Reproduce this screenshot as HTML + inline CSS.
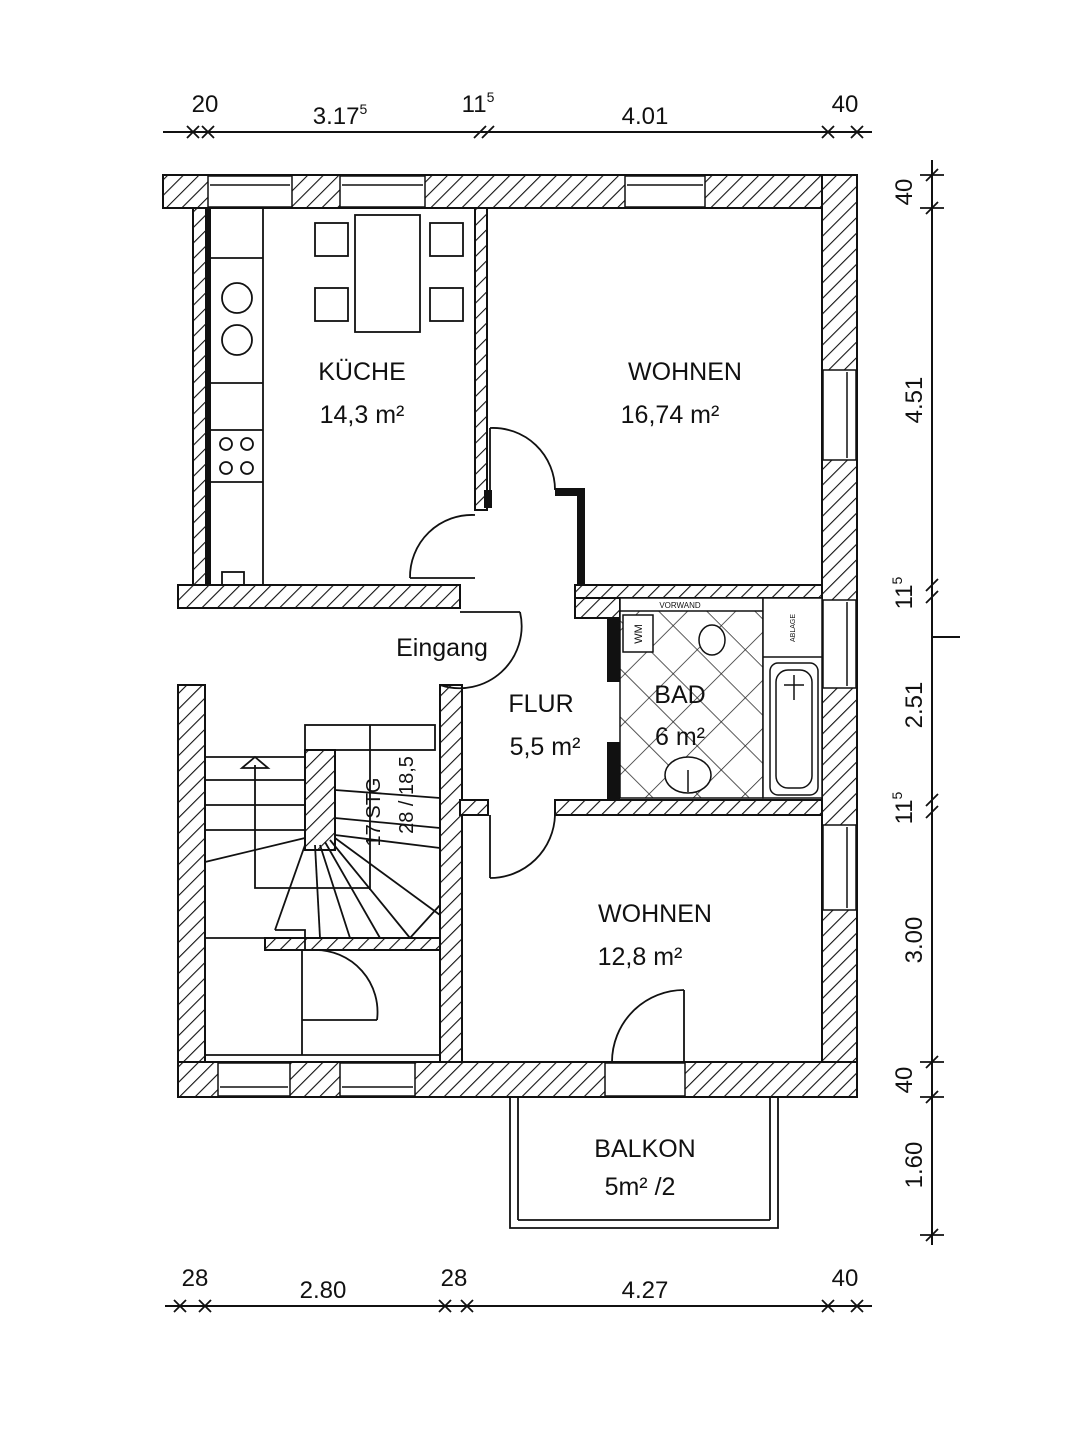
<!DOCTYPE html>
<html><head><meta charset="utf-8"><style>
html,body{margin:0;padding:0;background:#fff;}
svg{display:block;}
text{font-family:"Liberation Sans",Arial,sans-serif;fill:#111;}
</style></head><body>
<svg width="1079" height="1429" viewBox="0 0 1079 1429" xmlns="http://www.w3.org/2000/svg">
<defs>
<pattern id="h" width="11" height="11" patternUnits="userSpaceOnUse" patternTransform="rotate(45)">
<rect width="11" height="11" fill="#fff"/><line x1="0" y1="0" x2="0" y2="11" stroke="#111" stroke-width="2.2"/>
</pattern>
<pattern id="t" width="34" height="34" patternUnits="userSpaceOnUse" patternTransform="rotate(45)">
<rect width="34" height="34" fill="#fff"/><line x1="0" y1="0" x2="0" y2="34" stroke="#222" stroke-width="1.5"/><line x1="0" y1="0" x2="34" y2="0" stroke="#222" stroke-width="1.5"/>
</pattern>
</defs>
<g stroke="#111" stroke-width="2" fill="url(#h)">
<rect x="163" y="175" width="694" height="33"/>
<rect x="822" y="175" width="35" height="922"/>
<rect x="178" y="1062" width="679" height="35"/>
<rect x="193" y="208" width="14" height="377"/>
<rect x="178" y="585" width="282" height="23"/>
<rect x="475" y="208" width="12" height="302"/>
<rect x="575" y="585" width="247" height="13"/>
<rect x="575" y="598" width="45" height="20"/>
<rect x="178" y="685" width="27" height="377"/>
<rect x="440" y="685" width="22" height="377"/>
<rect x="460" y="800" width="28" height="15"/>
<rect x="555" y="800" width="267" height="15"/>
<rect x="265" y="938" width="175" height="12"/>
<rect x="305" y="750" width="30" height="100"/>
</g>
<g fill="#fff" stroke="#111" stroke-width="1.5">
<rect x="208" y="176" width="84" height="31"/><line x1="210" y1="185" x2="290" y2="185"/>
<rect x="340" y="176" width="85" height="31"/><line x1="342" y1="185" x2="423" y2="185"/>
<rect x="625" y="176" width="80" height="31"/><line x1="627" y1="185" x2="703" y2="185"/>
<rect x="823" y="370" width="33" height="90"/><line x1="847" y1="372" x2="847" y2="458"/>
<rect x="823" y="600" width="33" height="88"/><line x1="847" y1="602" x2="847" y2="686"/>
<rect x="823" y="825" width="33" height="85"/><line x1="847" y1="827" x2="847" y2="908"/>
<rect x="218" y="1063" width="72" height="33"/><line x1="220" y1="1087" x2="288" y2="1087"/>
<rect x="340" y="1063" width="75" height="33"/><line x1="342" y1="1087" x2="413" y2="1087"/>
<rect x="605" y="1063" width="80" height="33"/>
</g>
<g fill="#111">
<rect x="205" y="208" width="6" height="377"/>
<rect x="484" y="490" width="8" height="18"/>
<rect x="555" y="488" width="30" height="8"/>
<rect x="577" y="488" width="8" height="97"/>
<rect x="607" y="618" width="13" height="64"/>
<rect x="607" y="742" width="13" height="58"/>
</g>
<g fill="none" stroke="#111" stroke-width="1.8">
<line x1="263" y1="208" x2="263" y2="585"/>
<line x1="211" y1="258" x2="263" y2="258"/>
<line x1="211" y1="383" x2="263" y2="383"/>
<line x1="211" y1="430" x2="263" y2="430"/>
<line x1="211" y1="482" x2="263" y2="482"/>
<circle cx="237" cy="298" r="15"/><circle cx="237" cy="340" r="15"/>
<circle cx="226" cy="444" r="6"/><circle cx="247" cy="444" r="6"/><circle cx="226" cy="468" r="6"/><circle cx="247" cy="468" r="6"/>
<rect x="355" y="215" width="65" height="117"/>
<rect x="315" y="223" width="33" height="33"/><rect x="315" y="288" width="33" height="33"/>
<rect x="430" y="223" width="33" height="33"/><rect x="430" y="288" width="33" height="33"/>
<rect x="222" y="572" width="22" height="13"/>
<path d="M490 428 A62 62 0 0 1 555 490"/><line x1="490" y1="428" x2="490" y2="490"/>
<path d="M410 578 A62 62 0 0 1 475 515"/><line x1="410" y1="578" x2="475" y2="578"/>
<path d="M440 685 A62 62 0 0 0 520 612"/>
<line x1="520" y1="612" x2="460" y2="612"/>
<path d="M490 878 A65 65 0 0 0 555 815"/><line x1="490" y1="815" x2="490" y2="878"/>
<path d="M315 950 A62 62 0 0 1 377 1020"/><line x1="302" y1="950" x2="302" y2="1055"/><line x1="302" y1="1020" x2="377" y2="1020"/>
<path d="M612 1062 A72 72 0 0 1 684 990"/><line x1="684" y1="990" x2="684" y2="1062"/>
<rect x="305" y="725" width="130" height="25"/>
<line x1="370" y1="725" x2="370" y2="890"/>
<line x1="205" y1="757" x2="305" y2="757"/>
<line x1="205" y1="780" x2="305" y2="780"/>
<line x1="205" y1="805" x2="305" y2="805"/>
<line x1="205" y1="830" x2="305" y2="830"/>
<line x1="335" y1="790" x2="440" y2="798"/>
<line x1="335" y1="818" x2="440" y2="828"/>
<line x1="335" y1="835" x2="440" y2="848"/>
<line x1="205" y1="862" x2="305" y2="838"/>
<polyline points="255,765 255,888 370,888"/>
<polygon points="242,768 268,768 255,757"/>
<line x1="305" y1="845" x2="275" y2="930"/><polyline points="275,930 305,930 305,950"/>
<line x1="315" y1="845" x2="320" y2="938"/>
<line x1="320" y1="845" x2="350" y2="938"/>
<line x1="325" y1="842" x2="380" y2="938"/>
<line x1="330" y1="840" x2="410" y2="938"/>
<line x1="335" y1="838" x2="440" y2="915"/>
<line x1="410" y1="938" x2="440" y2="905"/>
<line x1="205" y1="938" x2="265" y2="938"/>
<line x1="205" y1="1055" x2="440" y2="1055"/>
<polyline points="510,1097 510,1228 778,1228 778,1097"/>
<line x1="518" y1="1097" x2="518" y2="1220"/><line x1="518" y1="1220" x2="770" y2="1220"/><line x1="770" y1="1220" x2="770" y2="1097"/>
</g>
<rect x="620" y="598" width="143" height="200" fill="url(#t)" stroke="#111" stroke-width="1.5"/>
<g fill="#fff" stroke="#111" stroke-width="1.5">
<rect x="620" y="598" width="143" height="13"/>
<rect x="623" y="615" width="30" height="37"/>
<rect x="763" y="598" width="59" height="200"/>
<line x1="763" y1="657" x2="822" y2="657"/>
<rect x="770" y="663" width="48" height="132" rx="8"/>
<rect x="776" y="670" width="36" height="118" rx="12"/>
<ellipse cx="712" cy="640" rx="13" ry="15"/>
<ellipse cx="688" cy="775" rx="23" ry="18"/>
</g>
<g stroke="#111" stroke-width="1.5">
<line x1="794" y1="675" x2="794" y2="700"/><line x1="784" y1="685" x2="804" y2="685"/>
<line x1="688" y1="770" x2="688" y2="792"/>
</g>
<text x="680" y="608" font-size="8" text-anchor="middle">VORWAND</text>
<text transform="translate(642,634) rotate(-90)" font-size="11" text-anchor="middle">WM</text>
<text transform="translate(795,628) rotate(-90)" font-size="7" text-anchor="middle">ABLAGE</text>
<g font-size="25">
<text x="362" y="380" text-anchor="middle">KÜCHE</text>
<text x="362" y="423" text-anchor="middle">14,3 m²</text>
<text x="685" y="380" text-anchor="middle">WOHNEN</text>
<text x="670" y="423" text-anchor="middle">16,74 m²</text>
<text x="541" y="712" text-anchor="middle">FLUR</text>
<text x="545" y="755" text-anchor="middle">5,5 m²</text>
<text x="680" y="703" text-anchor="middle">BAD</text>
<text x="680" y="745" text-anchor="middle">6 m²</text>
<text x="655" y="922" text-anchor="middle">WOHNEN</text>
<text x="640" y="965" text-anchor="middle">12,8 m²</text>
<text x="645" y="1157" text-anchor="middle">BALKON</text>
<text x="640" y="1195" text-anchor="middle">5m² /2</text>
<text x="442" y="656" text-anchor="middle">Eingang</text>
</g>
<text transform="translate(380,812) rotate(-90)" font-size="20" text-anchor="middle">17 STG</text>
<text transform="translate(413,795) rotate(-90)" font-size="20" text-anchor="middle">28 / 18,5</text>
<g stroke="#111" stroke-width="2" fill="none">
<line x1="163" y1="132" x2="872" y2="132"/>
<line x1="165" y1="1306" x2="872" y2="1306"/>
<line x1="932" y1="160" x2="932" y2="1245"/>
<line x1="932" y1="637" x2="960" y2="637"/>
</g>
<g stroke="#111" stroke-width="1.8">
<path d="M187 138 L199 126 M202 138 L214 126 M474 138 L486 126 M482 138 L494 126 M822 138 L834 126 M851 138 L863 126"/>
<path d="M187 126 L199 138 M202 126 L214 138 M822 126 L834 138 M851 126 L863 138"/>
<path d="M174 1312 L186 1300 M199 1312 L211 1300 M439 1312 L451 1300 M461 1312 L473 1300 M822 1312 L834 1300 M851 1312 L863 1300"/>
<path d="M174 1300 L186 1312 M199 1300 L211 1312 M439 1300 L451 1312 M461 1300 L473 1312 M822 1300 L834 1312 M851 1300 L863 1312"/>
<path d="M926 181 L938 169 M926 214 L938 202 M926 591 L938 579 M926 603 L938 591 M926 806 L938 794 M926 818 L938 806 M926 1068 L938 1056 M926 1103 L938 1091 M926 1241 L938 1229"/>
<path d="M920 175 L944 175 M920 208 L944 208 M920 1062 L944 1062 M920 1097 L944 1097 M920 1235 L944 1235"/>
</g>
<g font-size="24">
<text x="205" y="112" text-anchor="middle">20</text>
<text x="340" y="124" text-anchor="middle">3.17<tspan font-size="14" dy="-10">5</tspan></text>
<text x="478" y="112" text-anchor="middle">11<tspan font-size="14" dy="-10">5</tspan></text>
<text x="645" y="124" text-anchor="middle">4.01</text>
<text x="845" y="112" text-anchor="middle">40</text>
<text x="195" y="1286" text-anchor="middle">28</text>
<text x="323" y="1298" text-anchor="middle">2.80</text>
<text x="454" y="1286" text-anchor="middle">28</text>
<text x="645" y="1298" text-anchor="middle">4.27</text>
<text x="845" y="1286" text-anchor="middle">40</text>
<text transform="translate(912,192) rotate(-90)" text-anchor="middle">40</text>
<text transform="translate(922,400) rotate(-90)" text-anchor="middle">4.51</text>
<text transform="translate(912,593) rotate(-90)" text-anchor="middle">11<tspan font-size="14" dy="-10">5</tspan></text>
<text transform="translate(922,705) rotate(-90)" text-anchor="middle">2.51</text>
<text transform="translate(912,808) rotate(-90)" text-anchor="middle">11<tspan font-size="14" dy="-10">5</tspan></text>
<text transform="translate(922,940) rotate(-90)" text-anchor="middle">3.00</text>
<text transform="translate(912,1080) rotate(-90)" text-anchor="middle">40</text>
<text transform="translate(922,1165) rotate(-90)" text-anchor="middle">1.60</text>
</g>
</svg>
</body></html>
